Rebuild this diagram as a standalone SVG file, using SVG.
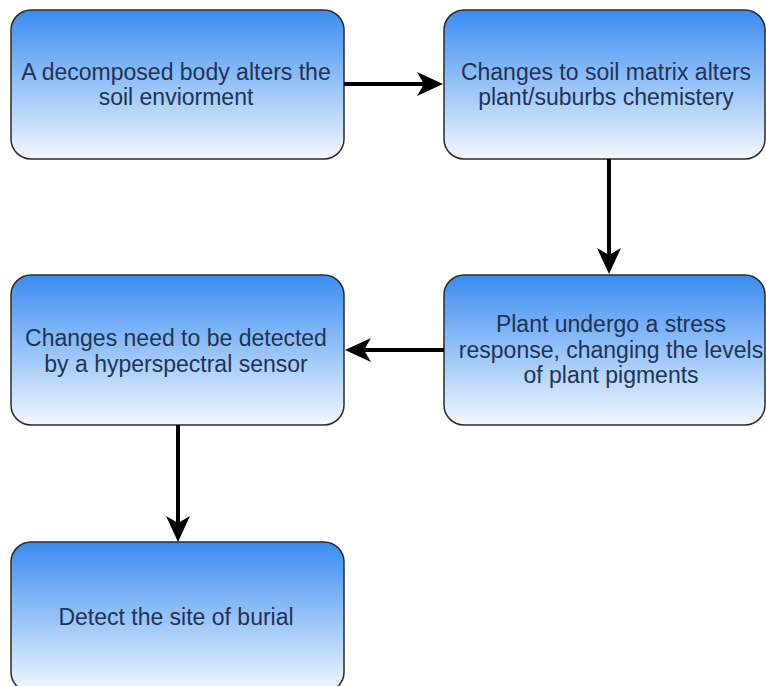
<svg xmlns="http://www.w3.org/2000/svg" width="766" height="686" viewBox="0 0 766 686">
  <defs>
    <linearGradient id="g" x1="0" y1="0" x2="0" y2="1">
      <stop offset="0" stop-color="#3a8cf0"/>
      <stop offset="1" stop-color="#f2f8ff"/>
    </linearGradient>
    <marker id="ah" markerUnits="userSpaceOnUse" markerWidth="26" markerHeight="26" refX="7" refY="12" orient="auto" overflow="visible">
      <path d="M0,0 L26,12 L0,24 L7,12 Z" fill="#000"/>
    </marker>
    <style>
      .box { fill: url(#g); stroke: #2b2b2b; stroke-width: 1.5; }
      .t { font-family: "Liberation Sans", Arial, sans-serif; font-size: 23px; fill: #1f3454; text-anchor: middle; }
      .c { stroke: #000; stroke-width: 4; fill: none; marker-end: url(#ah); }
    </style>
  </defs>
  <rect width="766" height="686" fill="#fff"/>
  <g id="n1">
    <rect class="box" x="11" y="10" width="333" height="149" rx="20"/>
    <text class="t" x="176" y="80">A decomposed body alters the</text>
    <text class="t" x="176" y="105">soil enviorment</text>
  </g>
  <g id="n2">
    <rect class="box" x="444" y="10" width="321" height="149" rx="20"/>
    <text class="t" x="606" y="80">Changes to soil matrix alters</text>
    <text class="t" x="606" y="105">plant/suburbs chemistery</text>
  </g>
  <g id="n3">
    <rect class="box" x="444" y="275" width="321" height="150" rx="20"/>
    <text class="t" x="611" y="332">Plant undergo a stress</text>
    <text class="t" x="611" y="358">response, changing the levels</text>
    <text class="t" x="611" y="383">of plant pigments</text>
  </g>
  <g id="n4">
    <rect class="box" x="11" y="275" width="333" height="150" rx="20"/>
    <text class="t" x="176" y="346">Changes need to be detected</text>
    <text class="t" x="176" y="372">by a hyperspectral sensor</text>
  </g>
  <g id="n5">
    <rect class="box" x="11" y="542" width="333" height="150" rx="20"/>
    <text class="t" x="176" y="625">Detect the site of burial</text>
  </g>
  <g id="connectors">
    <path class="c" d="M344,84 L424,84"/>
    <path class="c" d="M609,159 L609,255"/>
    <path class="c" d="M444,350 L364,350"/>
    <path class="c" d="M178,425 L178,523"/>
  </g>
</svg>
